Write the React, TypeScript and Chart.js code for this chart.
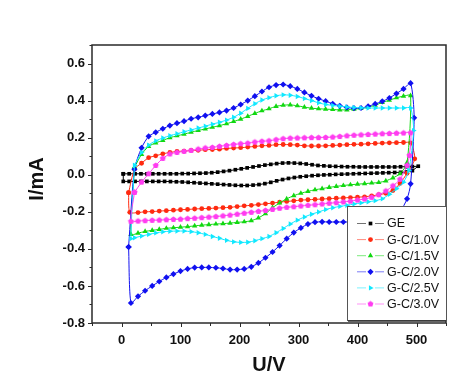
import React, { useEffect, useRef } from "react";
import { Chart, registerables } from "chart.js";
import { drawPoint } from "chart.js/helpers";

Chart.register(...registerables);

const seriesNames = ["GE", "G-C/1.0V", "G-C/1.5V", "G-C/2.0V", "G-C/2.5V", "G-C/3.0V"];
const xTickValues = [0, 100, 200, 300, 400, 500];
const xMinorTickValues = [-50, 50, 150, 250, 350, 450, 550];
const yTickValues = [-0.8, -0.6, -0.4, -0.2, 0.0, 0.2, 0.4, 0.6];
const yMinorTickValues = [-0.7, -0.5, -0.3, -0.1, 0.1, 0.3, 0.5, 0.7];
const xTitle = "U/V";
const yTitle = "I/mA";

// GE: [U, I] in scan order (forward then reverse)
const geLoop: [number, number][] = [
  [3, 0.005], [13, 0.005], [23, 0.005], [33, 0.005], [43, 0.005], [53, 0.005], [63, 0.005], [73, 0.005],
  [83, 0.005], [93, 0.005], [103, 0.006], [113, 0.006], [123, 0.007], [133, 0.008], [143, 0.009], [153, 0.011],
  [163, 0.014], [173, 0.018], [183, 0.022], [193, 0.027], [203, 0.032], [213, 0.037], [223, 0.042], [233, 0.047],
  [243, 0.052], [253, 0.056], [263, 0.06], [273, 0.063], [283, 0.064], [293, 0.063], [303, 0.061], [313, 0.058],
  [323, 0.054], [333, 0.05], [343, 0.048], [353, 0.046], [363, 0.045], [373, 0.044], [383, 0.043], [393, 0.043],
  [403, 0.042], [413, 0.042], [423, 0.042], [433, 0.042], [443, 0.042], [453, 0.042], [463, 0.042], [473, 0.043],
  [483, 0.043], [493, 0.044], [503, 0.046],
  [493, 0.022], [483, 0.015], [473, 0.013], [463, 0.012], [453, 0.011], [443, 0.01], [433, 0.009], [423, 0.008],
  [413, 0.007], [403, 0.006], [393, 0.005], [383, 0.004], [373, 0.003], [363, 0.002], [353, 0.0], [343, -0.001],
  [333, -0.003], [323, -0.005], [313, -0.008], [303, -0.011], [293, -0.015], [283, -0.02], [273, -0.026], [263, -0.033],
  [253, -0.041], [243, -0.048], [233, -0.053], [223, -0.056], [213, -0.058], [203, -0.058], [193, -0.057], [183, -0.055],
  [173, -0.053], [163, -0.051], [153, -0.049], [143, -0.047], [133, -0.045], [123, -0.043], [113, -0.041], [103, -0.039],
  [93, -0.038], [83, -0.037], [73, -0.036], [63, -0.036], [53, -0.036], [43, -0.036], [33, -0.036], [23, -0.036],
  [13, -0.036], [3, -0.036], [3, 0.005],
];

// G-C/1.0V
const gc10Loop: [number, number][] = [
  [12, -0.097], [22, 0.03], [34, 0.062], [46, 0.092], [58, 0.102], [70, 0.113], [82, 0.12], [94, 0.126],
  [106, 0.127], [118, 0.131], [130, 0.132], [142, 0.135], [154, 0.136], [166, 0.138], [178, 0.142], [190, 0.144],
  [202, 0.146], [214, 0.149], [226, 0.153], [238, 0.156], [250, 0.158], [262, 0.162], [274, 0.163], [286, 0.162],
  [298, 0.16], [310, 0.156], [322, 0.155], [334, 0.155], [346, 0.156], [358, 0.158], [370, 0.16], [382, 0.162],
  [394, 0.164], [406, 0.165], [418, 0.167], [430, 0.169], [442, 0.171], [454, 0.172], [466, 0.173], [478, 0.174],
  [490, 0.172], [497, 0.086],
  [484, 0.008], [472, -0.047], [460, -0.085], [448, -0.1], [436, -0.108], [424, -0.114], [412, -0.119], [400, -0.121],
  [388, -0.123], [376, -0.125], [364, -0.127], [352, -0.129], [340, -0.131], [328, -0.133], [316, -0.135], [304, -0.137],
  [292, -0.141], [280, -0.144], [268, -0.148], [256, -0.153], [244, -0.157], [232, -0.161], [220, -0.165], [208, -0.168],
  [196, -0.172], [184, -0.176], [172, -0.178], [160, -0.18], [148, -0.182], [136, -0.183], [124, -0.185], [112, -0.187],
  [100, -0.189], [88, -0.191], [76, -0.194], [64, -0.196], [52, -0.199], [40, -0.2], [28, -0.204], [14, -0.203],
  [12, -0.097],
];

// G-C/1.5V
const gc15Loop: [number, number][] = [
  [22, 0.04], [34, 0.11], [46, 0.153], [58, 0.172], [70, 0.185], [82, 0.2], [94, 0.21], [106, 0.219],
  [118, 0.229], [130, 0.239], [142, 0.247], [154, 0.256], [166, 0.265], [178, 0.275], [190, 0.287], [202, 0.3],
  [214, 0.315], [226, 0.331], [238, 0.345], [250, 0.356], [262, 0.369], [274, 0.375], [286, 0.377], [298, 0.372],
  [310, 0.365], [322, 0.359], [334, 0.356], [346, 0.354], [358, 0.352], [370, 0.35], [382, 0.35], [394, 0.354],
  [406, 0.357], [418, 0.365], [430, 0.375], [442, 0.39], [454, 0.402], [466, 0.415], [478, 0.424], [490, 0.427],
  [484, 0.065], [472, 0.005], [460, -0.017], [448, -0.033], [436, -0.042], [424, -0.045], [412, -0.048], [400, -0.051],
  [388, -0.054], [376, -0.058], [364, -0.063], [352, -0.068], [340, -0.075], [328, -0.081], [316, -0.09], [304, -0.1],
  [292, -0.113], [280, -0.13], [268, -0.152], [256, -0.178], [244, -0.21], [232, -0.233], [220, -0.248], [208, -0.254],
  [196, -0.257], [184, -0.261], [172, -0.264], [160, -0.266], [148, -0.269], [136, -0.272], [124, -0.276], [112, -0.28],
  [100, -0.283], [88, -0.286], [76, -0.289], [64, -0.295], [52, -0.3], [40, -0.306], [28, -0.315], [16, -0.322],
  [22, 0.04],
];

// G-C/2.0V
const gc20Loop: [number, number][] = [
  [12, -0.39], [22, 0.03], [34, 0.145], [46, 0.207], [58, 0.229], [70, 0.248], [82, 0.265], [94, 0.278],
  [106, 0.289], [118, 0.302], [130, 0.31], [142, 0.319], [154, 0.328], [166, 0.336], [178, 0.346], [190, 0.36],
  [202, 0.379], [214, 0.4], [226, 0.424], [238, 0.449], [250, 0.472], [262, 0.484], [274, 0.487], [286, 0.478],
  [298, 0.463], [310, 0.444], [322, 0.426], [334, 0.41], [346, 0.397], [358, 0.383], [370, 0.372], [382, 0.363],
  [394, 0.359], [406, 0.36], [418, 0.369], [430, 0.382], [442, 0.396], [454, 0.414], [466, 0.438], [478, 0.463],
  [490, 0.494], [496, 0.307], [490, -0.049],
  [484, -0.13], [472, -0.2], [460, -0.232], [448, -0.246], [436, -0.252], [424, -0.255], [412, -0.256], [400, -0.256],
  [388, -0.255], [376, -0.255], [364, -0.255], [352, -0.255], [340, -0.254], [328, -0.256], [316, -0.266], [304, -0.287],
  [292, -0.312], [280, -0.345], [268, -0.382], [256, -0.417], [244, -0.448], [232, -0.476], [220, -0.497], [208, -0.508],
  [196, -0.512], [184, -0.512], [172, -0.506], [160, -0.502], [148, -0.5], [136, -0.5], [124, -0.501], [112, -0.508],
  [100, -0.52], [88, -0.536], [76, -0.554], [64, -0.576], [52, -0.6], [40, -0.626], [28, -0.656], [16, -0.692],
  [12, -0.39],
];

// G-C/2.5V
const gc25Loop: [number, number][] = [
  [22, 0.05], [34, 0.12], [46, 0.16], [58, 0.183], [70, 0.198], [82, 0.211], [94, 0.221], [106, 0.232],
  [118, 0.242], [130, 0.252], [142, 0.262], [154, 0.273], [166, 0.283], [178, 0.295], [190, 0.31], [202, 0.332],
  [214, 0.358], [226, 0.383], [238, 0.403], [250, 0.416], [262, 0.426], [274, 0.431], [286, 0.429], [298, 0.422],
  [310, 0.411], [322, 0.4], [334, 0.388], [346, 0.379], [358, 0.374], [370, 0.37], [382, 0.366], [394, 0.363],
  [406, 0.361], [418, 0.36], [430, 0.36], [442, 0.36], [454, 0.36], [466, 0.36], [478, 0.36], [490, 0.36],
  [495, 0.238],
  [487, 0.023], [478, -0.04], [466, -0.075], [454, -0.105], [442, -0.13], [430, -0.14], [418, -0.146], [406, -0.152],
  [394, -0.158], [382, -0.165], [370, -0.171], [358, -0.178], [346, -0.188], [334, -0.201], [322, -0.213], [310, -0.228],
  [298, -0.245], [286, -0.266], [274, -0.29], [262, -0.313], [250, -0.333], [238, -0.345], [226, -0.356], [214, -0.364],
  [202, -0.365], [190, -0.362], [178, -0.354], [166, -0.343], [154, -0.333], [142, -0.322], [130, -0.313], [118, -0.307],
  [106, -0.304], [94, -0.304], [82, -0.305], [70, -0.308], [58, -0.314], [46, -0.322], [34, -0.331], [22, -0.34],
  [16, -0.345], [22, 0.05],
];

// G-C/3.0V
const gc30Loop: [number, number][] = [
  [22, -0.095], [34, -0.04], [46, 0.005], [58, 0.05], [70, 0.088], [82, 0.112], [94, 0.12], [106, 0.126],
  [118, 0.131], [130, 0.138], [142, 0.144], [154, 0.147], [166, 0.153], [178, 0.158], [190, 0.163], [202, 0.167],
  [214, 0.17], [226, 0.176], [238, 0.18], [250, 0.183], [262, 0.189], [274, 0.194], [286, 0.197], [298, 0.198],
  [310, 0.199], [322, 0.2], [334, 0.2], [346, 0.201], [358, 0.203], [370, 0.206], [382, 0.21], [394, 0.213],
  [406, 0.215], [418, 0.217], [430, 0.219], [442, 0.221], [454, 0.222], [466, 0.224], [478, 0.225], [490, 0.226],
  [488, 0.104], [484, 0.05], [472, -0.025], [460, -0.06], [448, -0.088], [436, -0.108], [424, -0.122], [412, -0.131],
  [400, -0.137], [388, -0.143], [376, -0.147], [364, -0.151], [352, -0.154], [340, -0.158], [328, -0.162], [316, -0.165],
  [304, -0.169], [292, -0.173], [280, -0.176], [268, -0.181], [256, -0.187], [244, -0.193], [232, -0.198], [220, -0.203],
  [208, -0.208], [196, -0.213], [184, -0.218], [172, -0.222], [160, -0.226], [148, -0.229], [136, -0.232], [124, -0.235],
  [112, -0.237], [100, -0.24], [88, -0.241], [76, -0.243], [64, -0.245], [52, -0.246], [40, -0.248], [28, -0.25],
  [16, -0.252], [22, -0.095],
];

const seriesData = [geLoop, gc10Loop, gc15Loop, gc20Loop, gc25Loop, gc30Loop];

const COLORS = ["#000000", "#ff2a10", "#10d810", "#1010f0", "#10e8ff", "#ff3cf0"];
const FONT = "Arial, 'Liberation Sans', Helvetica, sans-serif";

function makePentagon(color: string, r: number) {
  const c = document.createElement("canvas");
  const s = Math.ceil(r * 2 + 2);
  c.width = s;
  c.height = s;
  const g = c.getContext("2d")!;
  g.fillStyle = color;
  g.beginPath();
  for (let k = 0; k < 5; k++) {
    const ang = -Math.PI / 2 + (k * 2 * Math.PI) / 5;
    const px = s / 2 + r * Math.cos(ang);
    const py = s / 2 + r * Math.sin(ang);
    if (k === 0) g.moveTo(px, py);
    else g.lineTo(px, py);
  }
  g.closePath();
  g.fill();
  return c;
}

export default function App() {
  const ref = useRef<HTMLCanvasElement>(null);

  useEffect(() => {
    const canvas = ref.current!;
    const pent = makePentagon(COLORS[5], 3.1);
    const markers: any[] = [
      { pointStyle: "rect", radius: 2.6, rotation: 0 },
      { pointStyle: "circle", radius: 2.4, rotation: 0 },
      { pointStyle: "triangle", radius: 3.1, rotation: 0 },
      { pointStyle: "rectRot", radius: 3.1, rotation: 0 },
      { pointStyle: "triangle", radius: 3.1, rotation: 90 },
      { pointStyle: pent, radius: 3.1, rotation: 0 },
    ];

    const datasets = seriesData.map((d, i) => ({
      label: seriesNames[i],
      data: d.map(([x, y]) => ({ x, y })),
      showLine: true,
      borderColor: COLORS[i],
      backgroundColor: COLORS[i],
      pointBackgroundColor: COLORS[i],
      pointBorderColor: COLORS[i],
      pointBorderWidth: 0,
      borderWidth: 1,
      pointStyle: markers[i].pointStyle,
      pointRadius: markers[i].radius,
      pointRotation: markers[i].rotation,
      tension: i === 0 ? 0 : 0.25,
      order: 5 - i,
    }));

    const decor = {
      id: "decor",
      afterDatasetsDraw(chart: any) {
        const { ctx, chartArea: a, scales } = chart;
        const xs = scales.x;
        const ys = scales.y;
        ctx.save();
        // frame
        ctx.strokeStyle = "#2a2a2a";
        ctx.lineWidth = 1.5;
        ctx.strokeRect(a.left, a.top, a.right - a.left, a.bottom - a.top);
        // tick marks
        ctx.lineWidth = 1;
        ctx.beginPath();
        xTickValues.forEach((v) => {
          const px = Math.round(xs.getPixelForValue(v)) + 0.5;
          ctx.moveTo(px, a.bottom);
          ctx.lineTo(px, a.bottom + 4);
        });
        xMinorTickValues.forEach((v) => {
          const px = Math.round(xs.getPixelForValue(v)) + 0.5;
          ctx.moveTo(px, a.bottom);
          ctx.lineTo(px, a.bottom + 3);
        });
        yTickValues.forEach((v) => {
          const py = Math.round(ys.getPixelForValue(v)) + 0.5;
          ctx.moveTo(a.left, py);
          ctx.lineTo(a.left - 4, py);
        });
        yMinorTickValues.forEach((v) => {
          const py = Math.round(ys.getPixelForValue(v)) + 0.5;
          ctx.moveTo(a.left, py);
          ctx.lineTo(a.left - 2.5, py);
        });
        ctx.stroke();

        // axis titles
        ctx.fillStyle = "#111";
        ctx.font = `bold 20px ${FONT}`;
        ctx.textAlign = "center";
        ctx.textBaseline = "middle";
        ctx.fillText(xTitle, (a.left + a.right) / 2, a.bottom + 42);
        ctx.save();
        ctx.translate(37, (a.top + a.bottom) / 2 - 5);
        ctx.rotate(-Math.PI / 2);
        ctx.fillText(yTitle, 0, 0);
        ctx.restore();

        // legend box
        const bx = a.right - 99;
        const by = a.bottom - 117;
        const bw = 99;
        const bh = 114;
        ctx.fillStyle = "#ffffff";
        ctx.fillRect(bx, by, bw, bh);
        ctx.strokeStyle = "#555";
        ctx.lineWidth = 1;
        ctx.strokeRect(bx + 0.5, by + 0.5, bw, bh);
        ctx.strokeStyle = "#333";
        ctx.lineWidth = 1.5;
        ctx.beginPath();
        ctx.moveTo(bx + 1, by + bh + 1);
        ctx.lineTo(bx + bw, by + bh + 1);
        ctx.stroke();

        ctx.font = `12.5px ${FONT}`;
        ctx.textAlign = "left";
        ctx.textBaseline = "middle";
        seriesNames.forEach((name, i) => {
          const ry = by + 17.5 + i * 16.1;
          ctx.save();
          ctx.globalAlpha = 0.55;
          ctx.strokeStyle = COLORS[i];
          ctx.lineWidth = 1;
          ctx.beginPath();
          ctx.moveTo(bx + 10, ry);
          ctx.lineTo(bx + 19, ry);
          ctx.moveTo(bx + 28, ry);
          ctx.lineTo(bx + 37, ry);
          ctx.stroke();
          ctx.restore();
          ctx.fillStyle = COLORS[i];
          ctx.strokeStyle = COLORS[i];
          drawPoint(ctx, { pointStyle: markers[i].pointStyle, rotation: markers[i].rotation, radius: markers[i].radius, borderWidth: 0 } as any, bx + 23.5, ry);
          ctx.fillStyle = "#111";
          ctx.fillText(name, bx + 40, ry + 0.5);
        });
        ctx.restore();
      },
    };

    const chart = new Chart(canvas, {
      type: "scatter",
      data: { datasets: datasets as any },
      options: {
        animation: false,
        responsive: false,
        devicePixelRatio: 1,
        layout: { padding: { left: 0, top: 45, right: 28, bottom: 0 } },
        plugins: { legend: { display: false }, tooltip: { enabled: false } },
        scales: {
          x: {
            type: "linear",
            min: -50,
            max: 550,
            afterBuildTicks: (s: any) => {
              s.ticks = xTickValues.map((v) => ({ value: v }));
            },
            afterFit: (s: any) => {
              s.height = 68;
            },
            grid: { display: false, drawTicks: false },
            border: { display: false },
            ticks: {
              color: "#111",
              padding: 10,
              font: { family: FONT, size: 13, weight: "bold" },
              callback: (v: any) => String(v),
            },
          },
          y: {
            type: "linear",
            min: -0.8,
            max: 0.7,
            afterBuildTicks: (s: any) => {
              s.ticks = yTickValues.map((v) => ({ value: v }));
            },
            afterFit: (s: any) => {
              s.width = 92;
            },
            grid: { display: false, drawTicks: false },
            border: { display: false },
            ticks: {
              color: "#111",
              padding: 7,
              font: { family: FONT, size: 13, weight: "bold" },
              callback: (v: any) => Number(v).toFixed(1),
            },
          },
        },
      } as any,
      plugins: [decor],
    });
    return () => chart.destroy();
  }, []);

  return (
    <div style={{ position: "fixed", left: 0, top: 0, width: 474, height: 391, background: "#fff" }}>
      <canvas ref={ref} width={474} height={391} style={{ display: "block", width: 474, height: 391 }} />
    </div>
  );
}
